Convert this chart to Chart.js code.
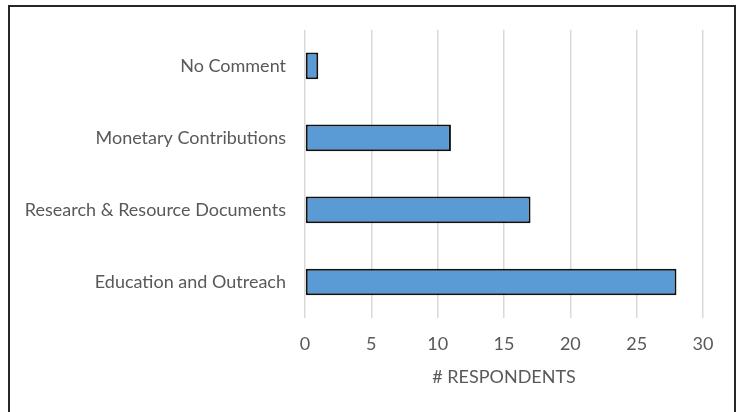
<!DOCTYPE html>
<html>
<head>
<meta charset="utf-8">
<script src="https://cdn.jsdelivr.net/npm/chart.js@4"></script>
<style>
  html, body { margin: 0; padding: 0; background: #fff; overflow: hidden; }
  #frame {
    position: absolute; left: 8px; top: 5px; width: 728px; height: 420px;
    border: 2px solid #262626; box-sizing: border-box;
  }
  #wrap { position: absolute; left: 0; top: 0; width: 739px; height: 412px; }
</style>
</head>
<body>
<div id="frame"></div>
<div id="wrap"><canvas id="chart" width="739" height="412"></canvas></div>
<script>
const categories = ['No Comment', 'Monetary Contributions', 'Research & Resource Documents', 'Education and Outreach'];
const respondents = [1, 11, 17, 28];
const axisTitle = '# RESPONDENTS';

const textColor = '#595959';
const fontFamily = 'Lato, "Open Sans", sans-serif';

new Chart(document.getElementById('chart').getContext('2d'), {
  type: 'bar',
  data: {
    labels: categories,
    datasets: [{
      data: respondents,
      backgroundColor: '#5B9BD5',
      borderColor: '#111111',
      borderWidth: 2,
      borderSkipped: false,
      categoryPercentage: 1,
      barPercentage: 0.37
    }]
  },
  options: {
    indexAxis: 'y',
    responsive: false,
    animation: false,
    layout: { padding: { top: 29, right: 36, left: 0, bottom: 24 } },
    scales: {
      x: {
        min: 0,
        max: 30,
        afterFit: (scale) => { scale.height = 70; },
        ticks: { stepSize: 5, color: textColor, font: { family: fontFamily, size: 18 }, padding: 15 },
        grid: { color: '#d9d9d9', lineWidth: 1.5, drawTicks: false },
        border: { display: false },
        title: {
          display: true,
          text: axisTitle,
          color: textColor,
          font: { family: fontFamily, size: 18 },
          padding: { top: 0, bottom: 0 }
        }
      },
      y: {
        afterFit: (scale) => { scale.width = 305; },
        ticks: { color: textColor, font: { family: fontFamily, size: 18 }, padding: 19 },
        grid: { display: false, drawTicks: false },
        border: { display: false }
      }
    },
    plugins: {
      legend: { display: false },
      tooltip: { enabled: false }
    }
  }
});
</script>
</body>
</html>
